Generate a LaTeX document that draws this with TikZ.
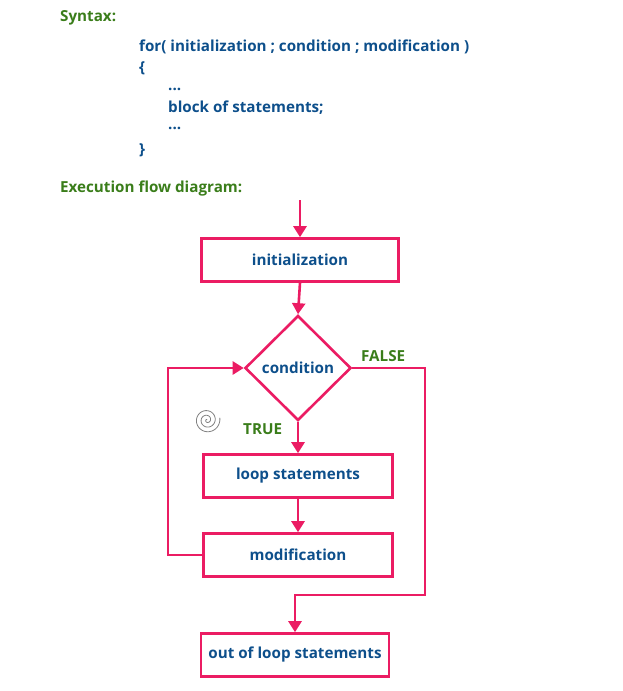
\documentclass[tikz,border=0pt]{standalone}
\usepackage{fontspec}
\setmainfont{Open Sans}
\usetikzlibrary{shapes.geometric,arrows.meta}
\definecolor{pk}{HTML}{EB1C63}
\definecolor{bl}{HTML}{0D4F8B}
\definecolor{gr}{HTML}{3A7D1A}
\begin{document}
\begin{tikzpicture}[x=1pt,y=-1pt,
  txt/.style={font=\bfseries\fontsize{15.2}{17}\selectfont},
  code/.style={txt,text=bl,anchor=west,inner sep=0},
  head/.style={txt,text=gr,anchor=west,inner sep=0},
  box/.style={draw=pk,line width=2.6pt,minimum height=43pt,txt,text=bl},
  ln/.style={draw=pk,line width=2.6pt},
  arr/.style={ln,-{Triangle[length=11pt,width=13pt]}}]
\useasboundingbox (0,0) rectangle (622,691);
\node[head] (syn) at (60,18) {Syntax:};
\node[code] (c1) at (139,47) {for( initialization ; condition ; modification )};
\node[code] (c2) at (139,68) {\{};
\node[code] (c3) at (168,89) {...};
\node[code] (c4) at (168,108) {block of statements;};
\node[code] (c5) at (168,128) {...};
\node[code] (c6) at (139,150) {\}};
\node[head] (efd) at (60,189) {Execution flow diagram:};
\coordinate (start) at (300,200);
\node[box,minimum width=197pt] (init) at (300,260) {initialization};
\node[draw=pk,line width=2.6pt,diamond,minimum width=106pt,minimum height=105pt,inner sep=0,txt,text=bl] (cond) at (298,368) {condition};
\node[box,minimum width=189pt] (loop) at (298,476) {loop statements};
\node[box,minimum width=189pt] (mod) at (298,555) {modification};
\node[box,minimum width=188pt] (out) at (295,655) {out of loop statements};
\draw[arr] (start) -- (init.north);
\draw[arr] (init.south) -- (cond.north);
\draw[arr] (cond.south) -- (loop.north);
\draw[arr] (loop.south) -- (mod.north);
\draw[arr] (mod.west) -- (168,555) -- (168,368) -- (cond.west);
\draw[arr] (cond.east) -- (425,368) -- (425,595) -- (295,595) -- (out.north);
\node[head] (f) at (361,356) {FALSE};
\node[head] (t) at (243,429) {TRUE};
\draw[gray,line width=0.8pt] plot[domain=0:1000,samples=200] ({207+0.013*\x*cos(\x+90)},{420-0.013*\x*sin(\x+90)});
\end{tikzpicture}
\end{document}
